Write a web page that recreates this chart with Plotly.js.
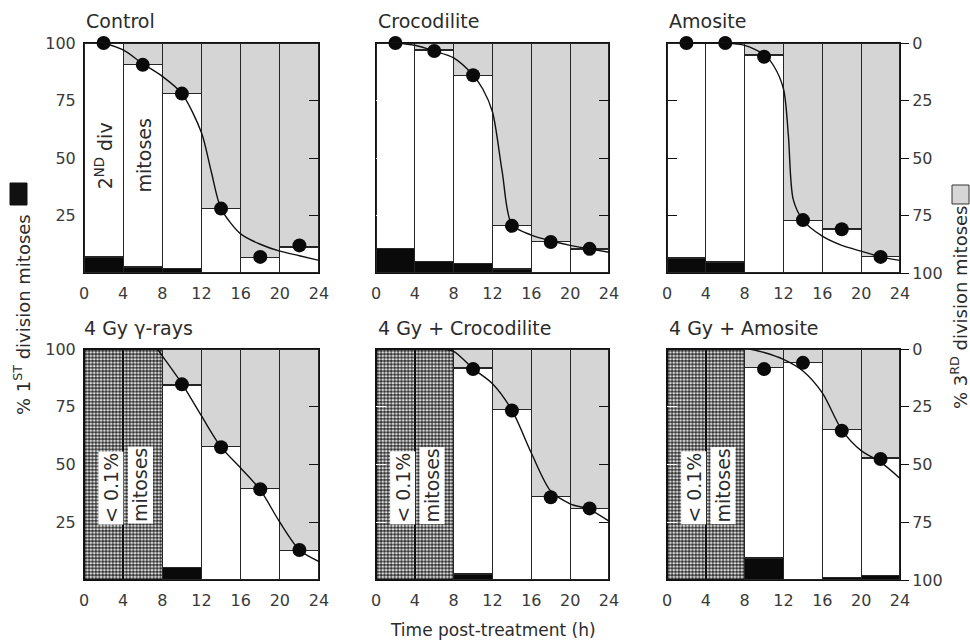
<!DOCTYPE html>
<html><head><meta charset="utf-8">
<script src="https://cdn.plot.ly/plotly-3.0.1.min.js"></script>
<style>html,body{margin:0;padding:0;background:#fff}#chart{width:970px;height:641px}</style>
</head><body><div id="chart"></div>
<script>
// ---- data ----
const binCenters = [2, 6, 10, 14, 18, 22];      // 4-h collection intervals 0-4 ... 20-24
const xTicks = [0, 4, 8, 12, 16, 20, 24];
const leftTicks = [25, 50, 75, 100];
const rightTicks = [0, 25, 50, 75, 100];
const panelTitles = ["Control", "Crocodilite", "Amosite", "4 Gy \u03b3-rays", "4 Gy + Crocodilite", "4 Gy + Amosite"];

// Control  (values on the left, % scale read from the bottom)
const ctrlFirst = [7, 2.6, 1.9, 0, 0, 0];          // % 1st division mitoses (black)
const ctrlLevel = [100, 90.5, 78, 28, 6.7, 11.3];  // top of 2nd division (white) part
const ctrlDots = [100, 90.5, 78, 28, 7, 12];
const ctrlCurveX = [2, 4, 6, 8, 10, 12, 13, 14, 16, 18, 20, 22, 24];
const ctrlCurveY = [100, 97, 91, 85.5, 78, 61, 44, 28, 17, 12.5, 9.5, 7.5, 5.5];

// Crocodilite
const crocFirst = [10.8, 5, 4.3, 1.7, 0, 0];
const crocLevel = [100, 97, 86, 20.5, 13.7, 10.4];
const crocDots = [100, 96.5, 86, 20.5, 13.5, 10.5];
const crocCurveX = [2, 4, 6, 8, 10, 11, 12, 13, 14, 16, 18, 20, 22, 24];
const crocCurveY = [100, 99, 96.5, 93.5, 86, 80, 70, 44, 21, 16.5, 14, 12, 10.5, 9];

// Amosite
const amoFirst = [6.5, 4.8, 0, 0, 0, 0];
const amoLevel = [100, 100, 94.8, 22.9, 19.1, 7.2];
const amoDots = [100, 100, 94, 23, 19, 7];
const amoCurveX = [2, 6, 8, 10, 11, 12, 12.5, 13, 14, 16, 18, 20, 22, 24];
const amoCurveY = [100, 100, 99, 95, 90, 80, 60, 32, 23, 16, 12, 9.5, 7, 5.5];

// Irradiated panels: intervals 0-4 and 4-8 had < 0.1% mitoses
const lowMitosesPct = [100, 100];

// 4 Gy gamma-rays (intervals 8-12 ... 20-24)
const gamFirst = [5.3, 0, 0, 0];
const gamLevel = [84.4, 57.8, 39.6, 12.6];
const gamDots = [84.7, 57.5, 39.3, 13];
const gamCurveX = [7.5, 8, 10, 12, 14, 16, 18, 20, 22, 24];
const gamCurveY = [100, 97, 85, 71, 57.5, 48.5, 39, 25, 13, 8];

// 4 Gy + Crocodilite
const gcFirst = [2.6, 0, 0, 0];
const gcLevel = [91.8, 73.7, 36.1, 30.9];
const gcDots = [91.3, 73.4, 35.8, 31];
const gcCurveX = [6.6, 8, 10, 12, 14, 16, 18, 20, 22, 24];
const gcCurveY = [100, 99, 91.5, 85, 73.5, 55, 38.5, 33, 30.5, 25.5];

// 4 Gy + Amosite
const gaFirst = [9.5, 0, 1.2, 1.9];
const gaLevel = [92, 94, 65, 52.8];
const gaDots = [91.3, 94, 64.6, 52.4];
const gaCurveX = [8.5, 10, 12, 14, 16, 18, 20, 22, 24];
const gaCurveY = [100, 98.5, 95.5, 90.5, 81, 65, 56, 51, 44];

// ---- build ----
const FONT = "DejaVu Sans, Verdana, sans-serif";
const TXT = "#2b2b2b";
const TICKC = "#3a3a3a";
const panels = [
  {first: ctrlFirst, level: ctrlLevel, dots: ctrlDots, cx: ctrlCurveX, cy: ctrlCurveY, low: false},
  {first: crocFirst, level: crocLevel, dots: crocDots, cx: crocCurveX, cy: crocCurveY, low: false},
  {first: amoFirst, level: amoLevel, dots: amoDots, cx: amoCurveX, cy: amoCurveY, low: false},
  {first: gamFirst, level: gamLevel, dots: gamDots, cx: gamCurveX, cy: gamCurveY, low: true},
  {first: gcFirst, level: gcLevel, dots: gcDots, cx: gcCurveX, cy: gcCurveY, low: true},
  {first: gaFirst, level: gaLevel, dots: gaDots, cx: gaCurveX, cy: gaCurveY, low: true}
];
const colDom = [[84/970, 319/970], [376/970, 609/970], [667/970, 900/970]];
const rowDom = [[1-273/641, 1-43/641], [1-580/641, 1-349/641]];

const traces = [];
const layout = {
  width: 970, height: 641, margin: {l: 0, r: 0, t: 0, b: 0},
  paper_bgcolor: "#ffffff", plot_bgcolor: "rgba(0,0,0,0)",
  barmode: "stack", bargap: 0, showlegend: false,
  font: {family: FONT, color: TXT, size: 16},
  annotations: [], shapes: []
};
const lineStyle = {color: "#262626", width: 1.2};
const finePattern = {shape: ".", size: 2, solidity: 0.5, fgcolor: "#b9b9b9", bgcolor: "#ececec"};
const coarsePattern = {shape: ".", size: 3.4, solidity: 0.68, fgcolor: "#333333", bgcolor: "#ffffff"};
const toRight = v => 100 - v;   // right axis (% 3rd division) runs 0 at top to 100 at bottom

panels.forEach((p, i) => {
  const n = i + 1, s = n === 1 ? "" : String(n);
  const xa = "x" + s, ya = "y" + s, yr = "y" + (n + 6);
  const xs = p.low ? binCenters.slice(2) : binCenters;
  if (p.low) {
    traces.push({type: "bar", x: binCenters.slice(0, 2), y: lowMitosesPct, width: 4, xaxis: xa, yaxis: ya,
      marker: {color: "#ffffff", pattern: coarsePattern, line: {color: "#111", width: 1.5}}, hoverinfo: "skip"});
  }
  traces.push({type: "bar", x: xs, y: p.first, width: 4, xaxis: xa, yaxis: ya,
    marker: {color: "#0a0a0a", line: lineStyle}, hoverinfo: "skip"});
  traces.push({type: "bar", x: xs, y: p.level.map((v, k) => v - p.first[k]), width: 4, xaxis: xa, yaxis: ya,
    marker: {color: "#ffffff", line: lineStyle}, hoverinfo: "skip"});
  traces.push({type: "bar", x: xs, y: p.level.map(v => 100 - v), width: 4, xaxis: xa, yaxis: ya,
    marker: {color: "#dcdcdc", pattern: finePattern, line: lineStyle}, hoverinfo: "skip"});
  // curve and dots drawn on the right-hand (reversed) axis so they sit on top
  traces.push({type: "scatter", mode: "lines", x: p.cx, y: p.cy.map(toRight), xaxis: xa, yaxis: yr,
    line: {color: "#111", width: 1.4, shape: "spline", smoothing: 0.8}, hoverinfo: "skip", cliponaxis: false});
  traces.push({type: "scatter", mode: "markers", x: xs, y: p.dots.map(toRight), xaxis: xa, yaxis: yr,
    marker: {color: "#0a0a0a", size: 14}, cliponaxis: false, hoverinfo: "skip"});

  const col = i % 3, row = Math.floor(i / 3);
  layout["xaxis" + s] = {
    domain: colDom[col], anchor: ya, range: [0, 24], tickvals: xTicks,
    showline: true, mirror: true, linecolor: "#111", linewidth: 1,
    ticks: "outside", ticklen: 6, tickcolor: "rgba(0,0,0,0)",
    showgrid: false, zeroline: false, tickfont: {family: FONT, size: 16, color: TICKC}
  };
  const yax = {
    domain: rowDom[row], anchor: xa, range: [0, 100],
    showline: true, mirror: true, linecolor: "#111", linewidth: 1,
    showgrid: false, zeroline: false, tickfont: {family: FONT, size: 16, color: TICKC}
  };
  if (col === 0) {
    Object.assign(yax, {tickvals: leftTicks, ticks: "outside", ticklen: 4, tickcolor: "rgba(0,0,0,0)", showticklabels: true});
  } else {
    Object.assign(yax, {tickvals: [25, 50, 75], ticks: "inside", ticklen: 10, tickwidth: 1,
      tickcolor: (col === 2 && row === 0) ? "#111" : "#ffffff", showticklabels: false});
  }
  layout["yaxis" + s] = yax;
  const r = {
    overlaying: ya, anchor: xa, side: "right", range: [100, 0],
    showline: false, showgrid: false, zeroline: false,
    tickfont: {family: FONT, size: 16, color: TICKC}
  };
  if (col === 2) {
    Object.assign(r, {tickvals: rightTicks, ticks: "outside", ticklen: 8, tickcolor: "#111", showticklabels: true});
  } else {
    Object.assign(r, {tickvals: [25, 50, 75], ticks: "inside", ticklen: 10, tickcolor: "#111", showticklabels: false});
  }
  layout["yaxis" + (n + 6)] = r;

  // panel title
  layout.annotations.push({text: panelTitles[i], xref: "paper", yref: "paper",
    x: colDom[col][0] - (row === 1 && col === 0 ? 2/970 : 0), y: row === 0 ? 1 - 21/641 : 1 - 328/641,
    xanchor: "left", yanchor: "middle", showarrow: false, font: {family: FONT, size: 19, color: TXT}});
  if (p.low) {
    layout.annotations.push({text: "&lt; 0.1%", xref: xa, yref: ya, x: 2.7, y: 40, textangle: -90,
      showarrow: false, bgcolor: "#ffffff", borderpad: 1, font: {family: FONT, size: 19, color: TXT}});
    layout.annotations.push({text: "mitoses", xref: xa, yref: ya, x: 5.8, y: 41, textangle: -90,
      showarrow: false, bgcolor: "#ffffff", borderpad: 1, font: {family: FONT, size: 19, color: TXT}});
  }
});

// Control panel inner labels
layout.annotations.push({text: "2<sup>ND</sup> div", xref: "x", yref: "y", x: 2, y: 51, textangle: -90,
  showarrow: false, font: {family: FONT, size: 19, color: TXT}});
layout.annotations.push({text: "mitoses", xref: "x", yref: "y", x: 6.1, y: 51, textangle: -90,
  showarrow: false, font: {family: FONT, size: 19, color: TXT}});

// Axis titles
layout.annotations.push({text: "% 1<sup>ST</sup> division mitoses", xref: "paper", yref: "paper",
  x: 22/970, y: 1 - 315/641, textangle: -90, showarrow: false, xanchor: "center", yanchor: "middle",
  font: {family: FONT, size: 18, color: TXT}});
layout.annotations.push({text: "% 3<sup>RD</sup> division mitoses", xref: "paper", yref: "paper",
  x: 959/970, y: 1 - 307/641, textangle: -90, showarrow: false, xanchor: "center", yanchor: "middle",
  font: {family: FONT, size: 18, color: TXT}});
layout.annotations.push({text: "Time post-treatment (h)", xref: "paper", yref: "paper",
  x: 493/970, y: 1 - 630/641, showarrow: false, xanchor: "center", yanchor: "middle",
  font: {family: FONT, size: 17, color: TXT}});

// legend swatches
layout.shapes.push({type: "rect", xref: "paper", yref: "paper", x0: 10/970, x1: 27/970,
  y0: 1 - 205/641, y1: 1 - 183/641, fillcolor: "#111", line: {color: "#111", width: 1}});
layout.shapes.push({type: "rect", xref: "paper", yref: "paper", x0: 952/970, x1: 969/970,
  y0: 1 - 204/641, y1: 1 - 185/641, fillcolor: "#d6d6d6", line: {color: "#333", width: 1}});

Plotly.newPlot("chart", traces, layout, {displayModeBar: false, staticPlot: true});
</script>
</body></html>
